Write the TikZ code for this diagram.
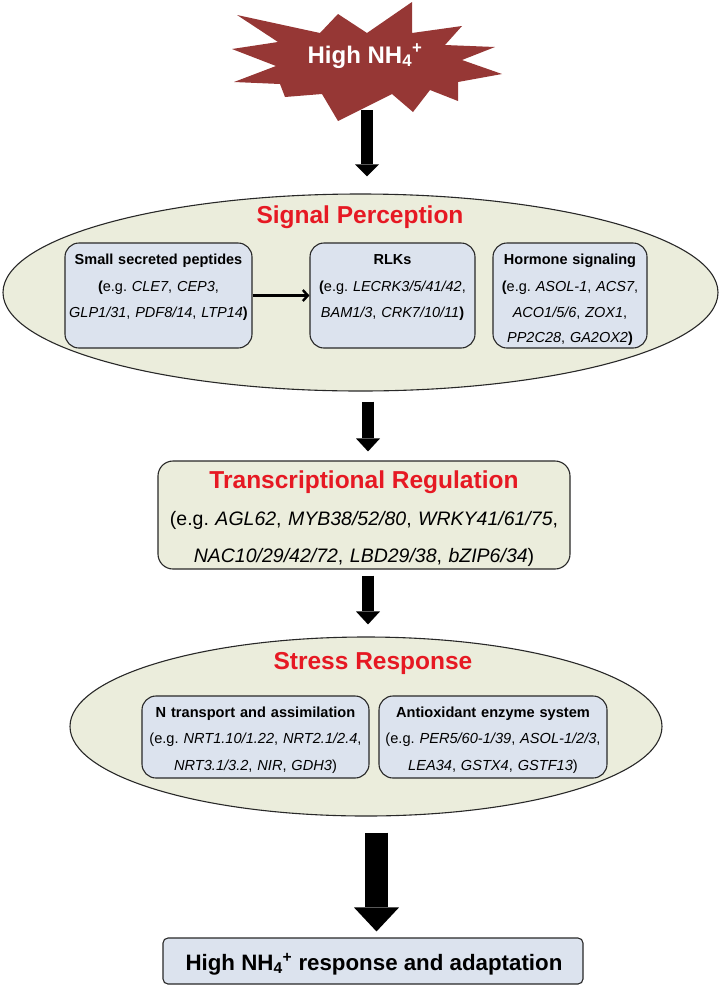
\documentclass[tikz,border=0pt]{standalone}
\usepackage{fontspec}
\setmainfont{Liberation Sans}
\usetikzlibrary{arrows.meta,shapes.geometric}
\definecolor{ellfill}{RGB}{235,237,220}
\definecolor{boxfill}{RGB}{220,227,238}
\definecolor{starred}{RGB}{150,55,53}
\definecolor{titlered}{RGB}{230,25,35}
\definecolor{edge}{RGB}{40,40,40}
\frenchspacing
\begin{document}
\begin{tikzpicture}[x=1pt,y=-1pt,
  ellnode/.style={ellipse, draw=edge, line width=1.1pt, fill=ellfill, inner sep=0pt},
  pbox/.style={rectangle, draw=edge, line width=1.1pt, fill=boxfill, rounded corners=14pt, inner sep=0pt},
  tbox/.style={rectangle, draw=edge, line width=1.1pt, fill=ellfill, rounded corners=15pt, inner sep=0pt},
  boxtxt/.style={align=center, inner sep=0pt, font=\frenchspacing\fontsize{14.5}{25.5}\selectfont},
  stxt/.style={align=center, inner sep=0pt, font=\frenchspacing\fontsize{14.6}{26.5}\selectfont},
  titletxt/.style={anchor=base, inner sep=0pt, text=titlered, font=\bfseries\fontsize{24.5}{28}\selectfont},
  bigarrow/.style={line width=12pt, -{Triangle[width=24pt,length=13pt,line width=0pt]}},
  thinarrow/.style={line width=2.4pt, -{Straight Barb[length=5pt,width=11pt]}}
]
\useasboundingbox (0,0) rectangle (721,986);

% star
\fill[starred] (237,15) -- (320,33) -- (338,14) -- (367,33) -- (412,2) -- (412,33) -- (462,26)
  -- (445,45) -- (495,47) -- (462,60) -- (502,74) -- (458,82) -- (458,101) -- (430,90)
  -- (413,112) -- (392,94) -- (338,121) -- (322,94) -- (285,97) -- (280,84) -- (234,82)
  -- (276,66) -- (232,49) -- (278,42) -- cycle;
\node[anchor=base, inner sep=0pt, text=white, font=\bfseries\fontsize{24}{28}\selectfont] (star) at (365,63)
  {High NH\textsubscript{4}\textsuperscript{+}};
\coordinate (starb) at (367,110);

% signal perception
\node[ellnode, minimum width=715, minimum height=197] (sp) at (360.5,292.5) {};
\node[titletxt] (spt) at (360,223) {Signal Perception};
\node[pbox, minimum width=187, minimum height=105] (b1) at (158.5,295.5) {};
\node[pbox, minimum width=165, minimum height=105] (b2) at (392.5,295.5) {};
\node[pbox, minimum width=154, minimum height=105] (b3) at (570,295.5) {};
\node[boxtxt, text width=186, anchor=base] (b1t) at (158.5,264)
  {\textbf{Small secreted peptides}\\[2pt]
   \textbf{(}e.g. \textit{CLE7}, \textit{CEP3},\\
   \textit{GLP1/31}, \textit{PDF8/14}, \textit{LTP14}\textbf{)}};
\node[boxtxt, text width=164, anchor=base] (b2t) at (392.5,264)
  {\textbf{RLKs}\\[2pt]
   \textbf{(}e.g. \textit{LECRK3/5/41/42},\\
   \textit{BAM1/3}, \textit{CRK7/10/11}\textbf{)}};
\node[boxtxt, text width=153, anchor=base] (b3t) at (570,264)
  {\textbf{Hormone signaling}\\[2pt]
   \textbf{(}e.g. \textit{ASOL-1}, \textit{ACS7},\\
   \textit{ACO1/5/6}, \textit{ZOX1},\\
   \textit{PP2C28}, \textit{GA2OX2}\textbf{)}};
\draw[thinarrow] (b1.east) -- (b2.west);

% transcriptional regulation
\node[tbox, minimum width=412, minimum height=108] (tr) at (364,515) {};
\node[titletxt] (trt) at (364,488) {Transcriptional Regulation};
\node[align=center, inner sep=0pt, text width=410, anchor=base, font=\frenchspacing\fontsize{19.5}{37}\selectfont] (trb) at (364,525)
  {(e.g. \textit{AGL62}, \textit{MYB38/52/80}, \textit{WRKY41/61/75},\\
   \textit{NAC10/29/42/72}, \textit{LBD29/38}, \textit{bZIP6/34})};

% stress response
\node[ellnode, minimum width=592, minimum height=179] (sr) at (366,726.5) {};
\node[titletxt] (srt) at (373,669) {Stress Response};
\node[pbox, minimum width=227, minimum height=82] (s1) at (255.5,737) {};
\node[pbox, minimum width=228, minimum height=82] (s2) at (493,737) {};
\node[stxt, text width=226, anchor=base] (s1t) at (255.5,717)
  {\textbf{N transport and assimilation}\\
   (e.g. \textit{NRT1.10/1.22}, \textit{NRT2.1/2.4},\\
   \textit{NRT3.1/3.2}, \textit{NIR}, \textit{GDH3})};
\node[stxt, text width=227, anchor=base] (s2t) at (493,717)
  {\textbf{Antioxidant enzyme system}\\
   (e.g. \textit{PER5/60-1/39}, \textit{ASOL-1/2/3},\\
   \textit{LEA34}, \textit{GSTX4}, \textit{GSTF13})};

% final box
\node[pbox, rounded corners=5pt, minimum width=420, minimum height=46] (fb) at (373,961) {};
\node[anchor=base, inner sep=0pt, font=\bfseries\fontsize{22.3}{26}\selectfont] (fbt) at (374,970)
  {High NH\textsubscript{4}\textsuperscript{+} response and adaptation};

% big arrows
\draw[bigarrow, -{Triangle[width=24pt,length=12pt,line width=0pt]}] (starb) -- ([xshift=6.5pt,yshift=17pt]sp.north);
\draw[bigarrow] ([xshift=7.5pt,yshift=-10pt]sp.south) -- ([xshift=4pt,yshift=9pt]tr.north);
\draw[bigarrow] ([xshift=4pt,yshift=-6pt]tr.south) -- ([xshift=2pt,yshift=12pt]sr.north);
\draw[line width=23pt, -{Triangle[width=45pt,length=24pt,line width=0pt]}] ([xshift=10.5pt,yshift=-16pt]sr.south) -- ([xshift=3.5pt,yshift=6pt]fb.north);
\end{tikzpicture}
\end{document}
